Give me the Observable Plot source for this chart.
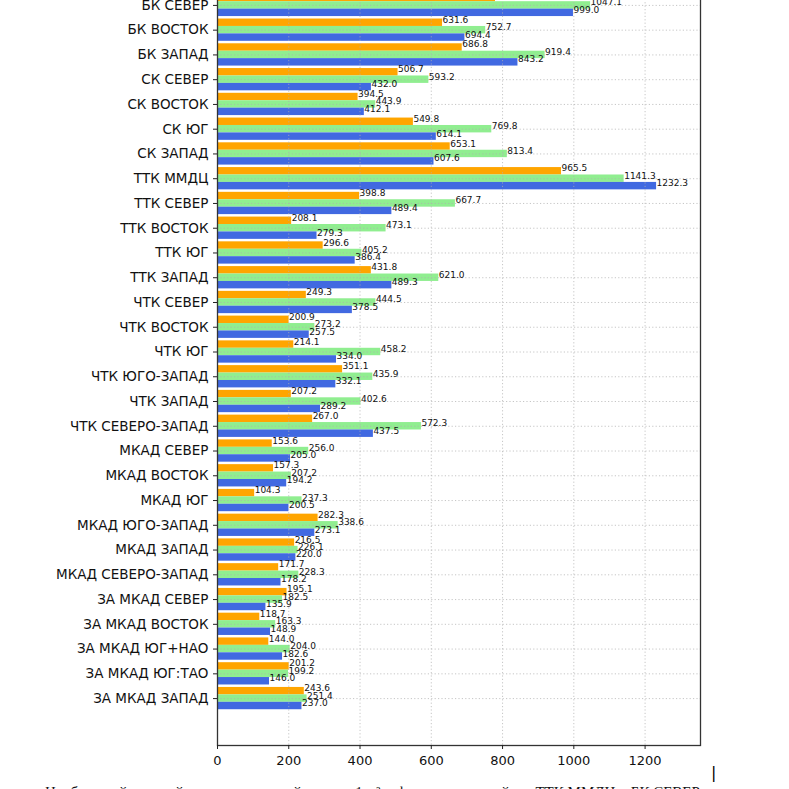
<!DOCTYPE html>
<html>
<head>
<meta charset="utf-8">
<script src="https://cdn.jsdelivr.net/npm/d3@7"></script>
<script src="https://cdn.jsdelivr.net/npm/@observablehq/plot@0.6"></script>
<style>
  html, body { margin: 0; padding: 0; background: #fff; overflow: hidden; }
  #wrap { position: relative; width: 789px; height: 789px; overflow: hidden; }
  #chart svg { display: block; margin-top: -42px; }
  #caption { position: absolute; left: 45px; top: 784px; font-family: "Liberation Serif", serif; font-size: 15px; color: #111; white-space: nowrap; }
  #cursor { position: absolute; left: 711px; top: 763px; font-family: "DejaVu Sans", sans-serif; font-size: 16px; color: #000; }
</style>
</head>
<body>
<div id="wrap">
  <div id="chart"></div>
  <div id="caption">Наибольший средний показатель по районам на 1 м² зафиксирован в районе ТТК ММДЦ и БК СЕВЕР.</div>
  <div id="cursor">|</div>
</div>
<script>
const categories = [
  "БК СЕВЕР", "БК ВОСТОК", "БК ЗАПАД", "СК СЕВЕР", "СК ВОСТОК", "СК ЮГ", "СК ЗАПАД",
  "ТТК ММДЦ", "ТТК СЕВЕР", "ТТК ВОСТОК", "ТТК ЮГ", "ТТК ЗАПАД",
  "ЧТК СЕВЕР", "ЧТК ВОСТОК", "ЧТК ЮГ", "ЧТК ЮГО-ЗАПАД", "ЧТК ЗАПАД", "ЧТК СЕВЕРО-ЗАПАД",
  "МКАД СЕВЕР", "МКАД ВОСТОК", "МКАД ЮГ", "МКАД ЮГО-ЗАПАД", "МКАД ЗАПАД", "МКАД СЕВЕРО-ЗАПАД",
  "ЗА МКАД СЕВЕР", "ЗА МКАД ВОСТОК", "ЗА МКАД ЮГ+НАО", "ЗА МКАД ЮГ:ТАО", "ЗА МКАД ЗАПАД"
];
const orangeValues = [780.2, 631.6, 686.8, 506.7, 394.5, 549.8, 653.1, 965.5, 398.8, 208.1, 296.6, 431.8,
  249.3, 200.9, 214.1, 351.1, 207.2, 267.0, 153.6, 157.3, 104.3, 282.3, 216.5, 171.7, 195.1, 118.7, 144.0, 201.2, 243.6];
const greenValues = [1047.1, 752.7, 919.4, 593.2, 443.9, 769.8, 813.4, 1141.3, 667.7, 473.1, 405.2, 621.0,
  444.5, 273.2, 458.2, 435.9, 402.6, 572.3, 256.0, 207.2, 237.3, 338.6, 226.1, 228.3, 182.5, 163.3, 204.0, 199.2, 251.4];
const blueValues = [999.0, 694.4, 843.2, 432.0, 412.1, 614.1, 607.6, 1232.3, 489.4, 279.3, 386.4, 489.3,
  378.5, 257.5, 334.0, 332.1, 289.2, 437.5, 205.0, 194.2, 200.5, 273.1, 220.0, 178.2, 135.9, 148.9, 182.6, 146.0, 237.0];
const seriesNames = ["серия 1", "серия 2", "серия 3"];
const seriesColors = ["#FFA500", "#90EE90", "#4169E1"];
const xTicks = [0, 200, 400, 600, 800, 1000, 1200];

const seriesValues = [orangeValues, greenValues, blueValues];
const offsets = [-0.3, 0, 0.3];
const barHalf = 0.15;
const data = categories.flatMap((c, i) => seriesValues.map((vals, s) => ({cat: c, i, s, series: seriesNames[s], v: vals[i]})));
const idx = d3.range(categories.length);
const yMax = 28.45 + 0.05 * 28.9;
const yMin = -0.45 - 0.05 * 28.9;
const xMax = d3.max(data, d => d.v) * 1.1;

const chart = Plot.plot({
  width: 789,
  height: 823,
  marginTop: 0,
  marginLeft: 217,
  marginRight: 89,
  marginBottom: 36,
  style: {fontFamily: "DejaVu Sans, sans-serif", background: "#fff", color: "#222"},
  x: {domain: [0, xMax]},
  y: {domain: [yMax, yMin]},
  color: {type: "ordinal", domain: seriesNames, range: seriesColors},
  marks: [
    Plot.rectX(data, {
      x1: 0, x2: "v",
      y1: d => d.i + offsets[d.s] - barHalf,
      y2: d => d.i + offsets[d.s] + barHalf,
      fill: "series"
    }),
    Plot.gridX(xTicks, {stroke: "#b0b0b0", strokeOpacity: 0.9, strokeDasharray: "1.2,2.2", strokeWidth: 0.8}),
    Plot.gridY(idx, {stroke: "#b0b0b0", strokeOpacity: 0.9, strokeDasharray: "1.2,2.2", strokeWidth: 0.8}),
    Plot.text(data, {
      x: "v",
      y: d => d.i + offsets[d.s],
      text: d => d.v.toFixed(1),
      textAnchor: "start",
      lineAnchor: "bottom",
      fontSize: 9,
      fill: "#111"
    }),
    Plot.frame({stroke: "#333", strokeWidth: 1.3}),
    Plot.axisX(xTicks, {tickSize: 4, tickPadding: 6, fontSize: 13, label: null, tickFormat: d => String(d), stroke: "#222", fill: "#111"}),
    Plot.axisY(idx, {tickSize: 4, tickPadding: 5, fontSize: 13.5, label: null, tickFormat: i => categories[i], stroke: "#222", fill: "#111"})
  ]
});
document.getElementById("chart").appendChild(chart);
</script>
</body>
</html>
